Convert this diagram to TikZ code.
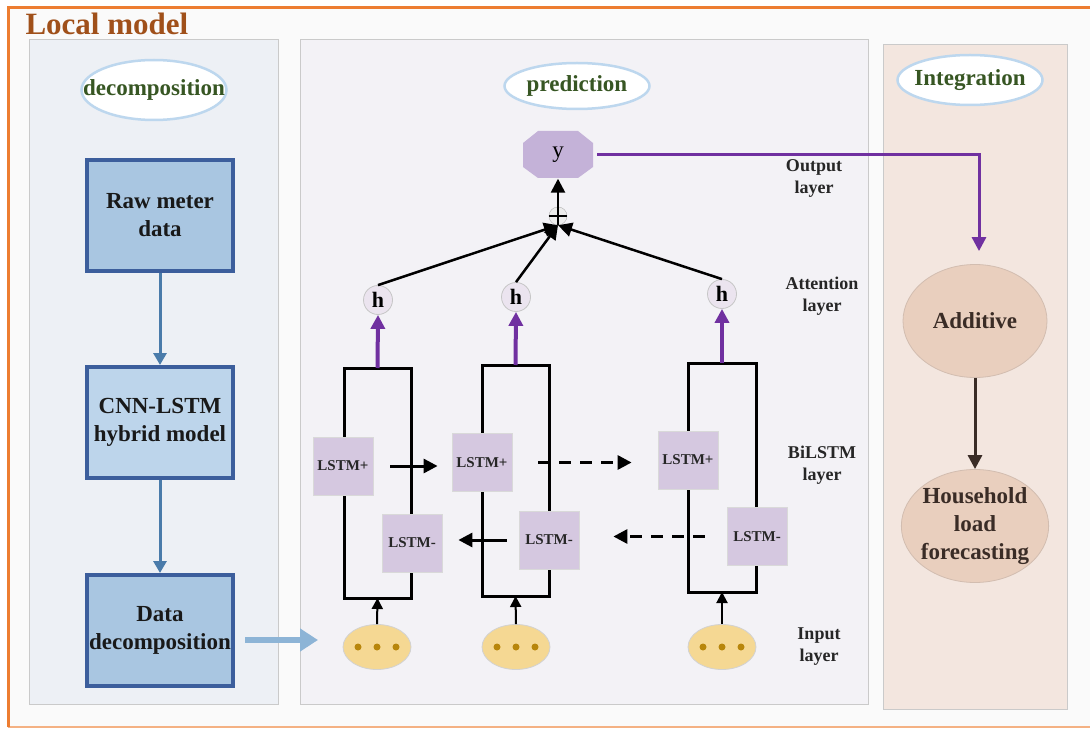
\documentclass[tikz,border=0pt]{standalone}
\usepackage{fontspec}
\setmainfont{Liberation Serif}
\usetikzlibrary{shapes.geometric, arrows.meta, positioning}

\definecolor{frameorange}{HTML}{ED7D31}
\definecolor{framelight}{HTML}{F4B183}
\definecolor{titlebrown}{HTML}{A0501A}
\definecolor{leftbg}{HTML}{EDF0F5}
\definecolor{midbg}{HTML}{F3F2F6}
\definecolor{rightbg}{HTML}{F3E6DF}
\definecolor{panelline}{HTML}{CACACA}
\definecolor{boxblue}{HTML}{A9C6E1}
\definecolor{boxblue2}{HTML}{BDD5EB}
\definecolor{boxedge}{HTML}{3C5E9C}
\definecolor{arrowblue}{HTML}{4A7BAA}
\definecolor{lightarrow}{HTML}{8DB4D6}
\definecolor{labelgreen}{HTML}{375623}
\definecolor{ovaledge}{HTML}{BDD7EE}
\definecolor{lstmfill}{HTML}{D5C8E0}
\definecolor{yfill}{HTML}{C4B2D8}
\definecolor{hfill}{HTML}{EBE4EF}
\definecolor{attpurple}{HTML}{7030A0}
\definecolor{inputfill}{HTML}{F5D893}
\definecolor{dotbrown}{HTML}{B8860B}
\definecolor{peach}{HTML}{E9CFBE}
\definecolor{peachedge}{HTML}{D2BDB0}
\definecolor{darkbrown}{HTML}{3A2C26}

\begin{document}
\begin{tikzpicture}[x=1pt,y=-1pt,
  panel/.style={draw=panelline,line width=1pt},
  tag/.style={ellipse,draw=ovaledge,line width=2.5pt,fill=white,minimum width=145pt,minimum height=48pt,inner xsep=-20pt,inner ysep=-6pt,text=labelgreen,font=\fontsize{23}{25}\selectfont\bfseries},
  stage/.style={rectangle,draw=boxedge,line width=4pt,fill=boxblue,minimum width=146pt,minimum height=111pt,inner sep=0pt,align=center,text=black!90,font=\fontsize{23}{28}\selectfont\bfseries},
  lstm/.style={rectangle,draw=gray!30,line width=0.8pt,fill=lstmfill,minimum width=60pt,minimum height=58pt,inner sep=0pt,text=black!85,font=\fontsize{15}{17}\selectfont\bfseries},
  hnode/.style={circle,draw=gray!45,line width=0.8pt,fill=hfill,minimum size=29pt,inner sep=0pt,font=\fontsize{22}{22}\selectfont\bfseries},
  inp/.style={ellipse,draw=gray!35,line width=0.8pt,fill=inputfill,minimum width=68pt,minimum height=45pt},
  dot/.style={circle,fill=dotbrown,inner sep=0pt,minimum size=7pt},
  layertxt/.style={align=center,text=black!85,font=\fontsize{18}{22}\selectfont\bfseries},
  blob/.style={ellipse,draw=peachedge,line width=0.8pt,fill=peach,minimum width=144pt,minimum height=113pt,inner sep=-2pt,align=center,text=darkbrown,font=\fontsize{23}{28}\selectfont\bfseries},
  wire/.style={line width=3pt,line cap=rect},
  conn/.style={-{Triangle[length=14pt,width=14pt]},line width=2.5pt},
  back/.style={-{Triangle[length=14pt,width=14pt]},line width=3pt},
  dashconn/.style={back,dash pattern=on 12pt off 9pt},
  attn/.style={attpurple,-{Triangle[length=14pt,width=14pt]},line width=4pt}]

\useasboundingbox (0,0) rectangle (1090,730);
\fill[white] (0,0) rectangle (1090,730);

% outer frame
\fill[black!2] (8,8) rectangle (1095,727);
\draw[framelight,line width=2pt] (8,727) -- (1095,727);
\draw[frameorange,line width=3pt] (8,727) -- (8,8) -- (1095,8);
\node[anchor=west,text=titlebrown,font=\fontsize{31}{31}\selectfont\bfseries] (title) at (22,24) {Local model};

% panels
\filldraw[panel,fill=leftbg] (29,40) rectangle (278,704);
\filldraw[panel,fill=midbg] (300,40) rectangle (868,704);
\filldraw[panel,fill=rightbg] (883,45) rectangle (1067,709);

\node[tag,minimum height=60pt] (tdec) at (154,90) {decomposition};
\node[tag,minimum height=46pt] (tpred) at (577,86) {prediction};
\node[tag,minimum height=50pt] (tint) at (970,80) {Integration};

% decomposition
\node[stage] (raw) at (160,215.5) {Raw meter\\data};
\node[stage,fill=boxblue2] (cnn) at (160,422.5) {CNN-LSTM\\hybrid model};
\node[stage] (dec) at (160,630.5) {Data\\decomposition};
\draw[arrowblue,line width=3pt,-{Triangle[length=12pt,width=13pt]}] (raw.south) -- (cnn.north);
\draw[arrowblue,line width=3pt,-{Triangle[length=12pt,width=13pt]}] (cnn.south) -- (dec.north);
\coordinate (entry) at (318,640);
\draw[lightarrow,line width=6pt,-{Triangle[length=18pt,width=22pt]}] ([xshift=10pt]dec.east |- entry) -- (entry);

% BiLSTM units
\draw[wire] (344,368) rectangle (411,598);
\draw[wire] (482,365) rectangle (549,596);
\draw[wire] (688,363) rectangle (756,592);
\coordinate (top1) at (377.5,368);
\coordinate (top2) at (515.5,365);
\coordinate (top3) at (722,363);
\coordinate (bot1) at (377.5,598);
\coordinate (bot2) at (515.5,596);
\coordinate (bot3) at (722,592);

\node[lstm] (p1) at (343,466) {LSTM+};
\node[lstm] (m1) at (412,543) {LSTM-};
\node[lstm] (p2) at (482,462.5) {LSTM+};
\node[lstm] (m2) at (549,540) {LSTM-};
\node[lstm] (p3) at (688,460) {LSTM+};
\node[lstm] (m3) at (757,536.5) {LSTM-};

\draw[back] ([xshift=17pt]p1.east) -- ([xshift=-14pt]p1.east -| p2.west);
\draw[dashconn] ([xshift=26pt]p2.east) -- ([xshift=-26pt]p2.east -| p3.west);
\draw[back] ([xshift=-12pt]m2.west) -- ([xshift=16pt]m2.west -| m1.east);
\draw[dashconn] ([xshift=-22pt]m3.west) -- ([xshift=34pt]m3.west -| m2.east);

% input layer
\node[inp] (in1) at (377,647) {};
\node[inp] (in2) at (516,647) {};
\node[inp] (in3) at (722,647) {};
\node[dot] (d1a) at ([xshift=-19pt]in1.center) {};
\node[dot] (d1b) at (in1.center) {};
\node[dot] (d1c) at ([xshift=19pt]in1.center) {};
\node[dot] (d2a) at ([xshift=-19pt]in2.center) {};
\node[dot] (d2b) at (in2.center) {};
\node[dot] (d2c) at ([xshift=19pt]in2.center) {};
\node[dot] (d3a) at ([xshift=-19pt]in3.center) {};
\node[dot] (d3b) at (in3.center) {};
\node[dot] (d3c) at ([xshift=19pt]in3.center) {};
\draw[-{Triangle[length=11pt,width=11pt]},line width=2pt] (in1.north) -- (bot1);
\draw[-{Triangle[length=11pt,width=11pt]},line width=2pt] (in2.north) -- (bot2);
\draw[-{Triangle[length=11pt,width=11pt]},line width=2pt] (in3.north) -- (bot3);

% attention and output
\node[hnode] (h1) at (378,300) {h};
\node[hnode] (h2) at (516,297) {h};
\node[hnode] (h3) at (722,294) {h};
\draw[attn] (top1) -- (h1.south);
\draw[attn] (top2) -- (h2.south);
\draw[attn] (top3) -- (h3.south);

\fill[yfill] (538,131) -- (578,131) -- (593,143) -- (593,167) -- (578,178) -- (538,178) -- (523,167) -- (523,143) -- cycle;
\node[minimum width=70pt,minimum height=47pt,inner sep=0pt,font=\fontsize{23}{23}\selectfont] (yout) at (558,155) {y};
\node[circle,draw=gray!60,fill=gray!15,minimum size=18pt,inner sep=0pt] (sum) at (558,216) {};
\draw[line width=1.2pt] (sum.west) -- (sum.east);
\draw[conn] (sum.south) -- (yout.south);
\draw[conn] (h1.north) -- (sum.south);
\draw[conn] (h2.north) -- (sum.south);
\draw[conn] (h3.north) -- (sum.south);

\node[layertxt] (lout) at (814,178) {Output\\layer};
\node[layertxt] (latt) at (822,296) {Attention\\layer};
\node[layertxt] (lbi) at (822,465) {BiLSTM\\layer};
\node[layertxt] (lin) at (819,647) {Input\\layer};

% integration
\node[blob] (add) at (975,321) {Additive};
\node[blob] (hh) at (975,526) {Household\\load\\forecasting};
\draw[attn,line width=3pt,shorten <=4pt,shorten >=13pt] (yout.east) -| ([xshift=4pt]add.north);
\draw[darkbrown,line width=3pt,-{Triangle[length=14pt,width=14pt]}] (add.south) -- (hh.north);
\end{tikzpicture}
\end{document}
